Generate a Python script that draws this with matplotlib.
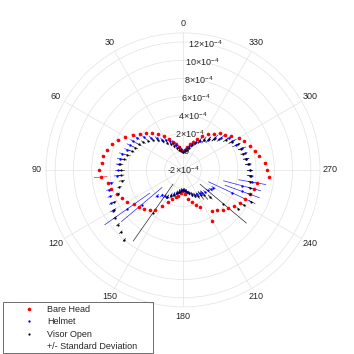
import numpy as np
import matplotlib
matplotlib.use("Agg")
import matplotlib.pyplot as plt
from matplotlib.lines import Line2D
from matplotlib.patches import Rectangle

plt.rcParams["font.family"] = ["Liberation Sans", "DejaVu Sans"]
plt.rcParams["mathtext.fontset"] = "custom"
plt.rcParams["mathtext.rm"] = "Liberation Sans"
plt.rcParams["mathtext.it"] = "Liberation Sans:italic"

# angles in degrees (0 at top, counterclockwise)
angles = list(range(0, 360, 5))

# mean values, in units of 1e-4
bare_head = [0.05, 0.15, 0.55, 0.95, 1.3, 1.75, 2.25, 2.75, 3.25, 3.7, 4.2, 4.75,
             5.3, 5.8, 6.25, 6.6, 6.9, 6.95, 7.2, 7.05, 6.3, 6.15, 5.7, 5.4,
             5.05, 4.6, 4.3, 4.05, 3.7, 3.3, 2.6, 1.9, 1.4, 1.1, 0.85, 0.55,
             0.25, 0.7, 1.25, 1.65, 2.1, 2.5, 4.4, 3.55, 3.8, 4.15, 4.5, 4.85,
             5.15, 5.45, 5.75, 6.0, 6.2, 7.45, 7.2, 7.0, 6.5, 6.15, 5.8, 5.4,
             5.05, 4.45, 4.0, 3.65, 3.2, 2.8, 2.25, 1.7, 1.3, 0.9, 0.5, 0.15]
helmet = [0.0, 0.25, 0.55, 0.85, 1.15, 1.45, 1.75, 2.0, 2.5, 3.0, 3.55, 4.1,
          4.3, 4.45, 4.5, 4.9, 5.0, 5.05, 5.1, 5.25, 6.0, 6.4, 6.5, 6.65,
          6.9, 5.45, 3.9, 2.0, 1.65, 1.5, 1.4, 1.0, 0.8, 0.6, 0.4, 0.25,
          0.2, 0.25, 0.4, 0.6, 0.8, 1.0, 1.1, 1.15, 1.25, 1.4, 1.5, 1.7,
          1.85, 3.9, 4.9, 4.7, 5.7, 5.45, 5.3, 5.2, 5.05, 4.97, 4.9, 4.4,
          4.25, 4.1, 3.5, 2.95, 2.3, 2.0, 1.7, 1.35, 1.0, 0.7, 0.4, 0.15]
visor_open = [0.0, 0.1, 0.25, 0.45, 0.75, 1.1, 1.4, 1.8, 2.25, 2.65, 3.0, 3.3,
              3.6, 3.8, 4.0, 4.3, 4.6, 4.9, 4.8, 4.8, 4.8, 5.2, 5.6, 6.3,
              6.7, 7.1, 7.3, 7.65, 8.0, 3.7, 1.4, 1.2, 0.9, 0.6, 0.4, 0.3,
              0.25, 0.3, 0.45, 0.65, 0.9, 1.1, 1.3, 1.4, 1.6, 2.2, 3.75, 5.4,
              5.7, 6.2, 5.75, 5.6, 5.5, 5.35, 5.3, 5.15, 5.0, 4.85, 4.75, 4.6,
              4.2, 3.7, 3.2, 2.8, 2.4, 2.0, 1.6, 1.2, 0.85, 0.5, 0.25, 0.1]

# standard deviations, in units of 1e-4
bare_head_std = [0.08, 0.08, 0.08, 0.08, 0.08, 0.08, 0.08, 0.08, 0.08, 0.08, 0.08, 0.08,
                 0.08, 0.08, 0.08, 0.08, 0.08, 0.08, 0.08, 0.7, 0.08, 0.08, 0.08, 0.08,
                 0.08, 0.08, 0.08, 0.08, 0.08, 0.08, 0.08, 0.08, 0.08, 0.08, 0.08, 0.08,
                 0.08, 0.08, 0.08, 0.08, 0.08, 0.08, 0.08, 0.08, 0.08, 0.08, 0.08, 0.08,
                 0.08, 0.08, 0.08, 0.08, 0.08, 0.08, 0.08, 0.08, 0.08, 0.08, 0.08, 0.08,
                 0.08, 0.08, 0.08, 0.08, 0.08, 0.08, 0.08, 0.08, 0.08, 0.08, 0.08, 0.08]
helmet_std = [0.1, 0.15, 0.2, 0.25, 0.25, 0.25, 0.25, 0.25, 0.25, 0.25, 0.25, 0.25,
              0.3, 0.3, 0.3, 0.3, 0.3, 0.3, 0.3, 0.3, 0.25, 0.25, 0.25, 0.25,
              0.25, 3.0, 2.9, 0.2, 0.2, 0.2, 0.2, 0.2, 0.2, 0.2, 0.2, 0.2,
              0.2, 0.2, 0.2, 0.2, 0.2, 0.2, 0.2, 0.2, 0.2, 0.2, 0.2, 0.2,
              0.2, 2.8, 2.0, 2.1, 1.5, 0.3, 0.3, 0.3, 0.3, 0.3, 0.4, 0.4,
              0.45, 0.45, 0.45, 0.45, 0.4, 0.4, 0.35, 0.3, 0.25, 0.2, 0.15, 0.1]
visor_open_std = [0.1, 0.1, 0.15, 0.2, 0.2, 0.2, 0.2, 0.2, 0.2, 0.2, 0.2, 0.25,
                  0.3, 0.3, 0.3, 0.3, 0.3, 0.3, 0.3, 0.3, 0.3, 0.2, 0.2, 0.2,
                  0.2, 0.2, 0.2, 0.2, 0.2, 3.8, 0.2, 0.2, 0.2, 0.2, 0.2, 0.2,
                  0.2, 0.2, 0.2, 0.2, 0.2, 0.2, 0.3, 0.5, 0.6, 0.3, 3.3, 0.2,
                  0.2, 0.2, 0.2, 0.2, 0.25, 0.3, 0.3, 0.3, 0.3, 0.3, 0.3, 0.3,
                  0.3, 0.3, 0.3, 0.3, 0.25, 0.2, 0.2, 0.2, 0.2, 0.15, 0.1, 0.1]

series_names = ["Bare Head", "Helmet", "Visor Open"]
r_ticks = [-2, 0, 2, 4, 6, 8, 10, 12]
r_tick_labels = ["-2×10$^{-4}$", "0", "2×10$^{-4}$", "4×10$^{-4}$", "6×10$^{-4}$",
                 "8×10$^{-4}$", "10×10$^{-4}$", "12×10$^{-4}$"]
theta_ticks = list(range(0, 360, 30))

r_min, r_max = -2e-4, 13e-4
scale = 1e-4
txt_color = "#262626"
grid_color = "#e2e2e2"

fig = plt.figure(figsize=(3.54, 3.54), dpi=100)
ax = fig.add_axes([0.130, 0.133, 0.774, 0.774], projection="polar")
ax.set_theta_zero_location("N")
ax.set_theta_direction(1)
ax.set_rlim(r_min, r_max)

th = np.deg2rad(angles)
data = [(bare_head, bare_head_std, "#ff0000", 2.6),
        (helmet, helmet_std, "#0000ff", 1.7),
        (visor_open, visor_open_std, "#000000", 1.6)]

#std lines first, then the points on top
for vals, std, col, ms in data:
    r = np.array(vals) * scale
    s = np.array(std) * scale
    lo = np.maximum(r - s, r_min)
    hi = np.minimum(r + s, r_max)
    for t, a, b in zip(th, lo, hi):
        ax.plot([t, t], [a, b], color=col, lw=0.5, alpha=0.85, zorder=2)

for vals, std, col, ms in data:
    r = np.array(vals) * scale
    ax.plot(th, r, linestyle="none", marker="o", ms=ms, mew=0,
            color=col, zorder=3)

ax.set_thetagrids(theta_ticks, labels=[str(t) for t in theta_ticks])
ax.tick_params(axis="x", length=0, pad=0, labelsize=6.5, labelcolor=txt_color)
ax.set_yticks([v * scale for v in r_ticks])
ax.set_yticklabels([])
ax.grid(True, color=grid_color, lw=0.5)
ax.spines["polar"].set_color(grid_color)
ax.spines["polar"].set_linewidth(0.5)

for v, lab in zip(r_ticks, r_tick_labels):
    ax.text(np.deg2rad(350), v * scale, lab, ha="center", va="center",
            fontsize=6.5, color=txt_color, zorder=4)

handles = [Line2D([], [], ls="none", marker="o", ms=2.6, mew=0, color="#ff0000"),
           Line2D([], [], ls="none", marker="o", ms=1.7, mew=0, color="#0000ff"),
           Line2D([], [], ls="none", marker="o", ms=1.6, mew=0, color="#000000"),
           Line2D([], [], ls="none", marker="none")]
labels = series_names + ["+/- Standard Deviation"]
fig.legend(handles, labels, loc="upper left",
           bbox_to_anchor=(20 / 354, 1 - 305 / 354),
           frameon=False, borderpad=0, borderaxespad=0, handlelength=2.0,
           handletextpad=1.0, labelspacing=0.38, fontsize=6.5)
for txt in fig.legends[0].get_texts():
    txt.set_color(txt_color)
fig.patches.append(Rectangle((3 / 354, 1 - 353 / 354), 150 / 354, 51 / 354,
                             transform=fig.transFigure, fill=False,
                             edgecolor="#555555", lw=0.6))

fig.savefig("out.png", dpi=100)
